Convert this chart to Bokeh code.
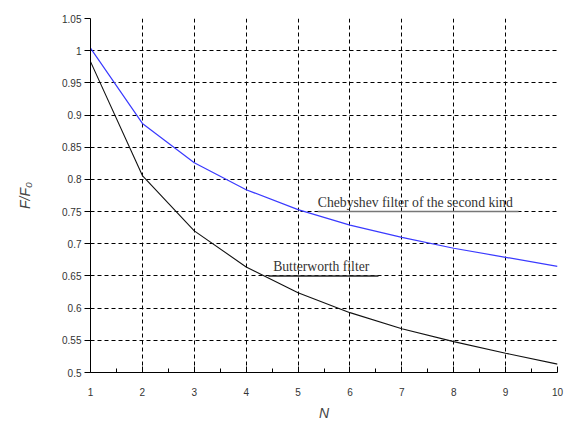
from bokeh.plotting import figure
from bokeh.models import Range1d, FixedTicker, Label
from bokeh.embed import file_html
from bokeh.resources import INLINE

N = [1, 2, 3, 4, 5, 6, 7, 8, 9, 10]
chebyshev = [1.004, 0.887, 0.826, 0.784, 0.753, 0.729, 0.710, 0.693, 0.679, 0.665]
butterworth = [0.983, 0.806, 0.720, 0.664, 0.624, 0.593, 0.568, 0.548, 0.530, 0.513]

y_ticks = [0.5, 0.55, 0.6, 0.65, 0.7, 0.75, 0.8, 0.85, 0.9, 0.95, 1.0, 1.05]
x_ticks = [1, 2, 3, 4, 5, 6, 7, 8, 9, 10]
x_minor = [1.5, 2.5, 3.5, 4.5, 5.5, 6.5, 7.5, 8.5, 9.5]

labels = ["Chebyshev filter of the second kind", "Butterworth filter"]
label_x = [5.38, 4.52]
label_y = [0.75, 0.65]
underline_x0 = [5.38, 4.43]
underline_x1 = [9.25, 6.55]
underline_colors = ["#777777", "#222222"]

p = figure(width=565, height=431, output_backend="svg", toolbar_location=None,
           x_range=Range1d(1, 10), y_range=Range1d(0.5, 1.05),
           min_border_left=90, min_border_right=8, min_border_top=18, min_border_bottom=59)
p.outline_line_color = None
p.background_fill_color = "white"

for ax in (p.xaxis[0], p.yaxis[0]):
    ax.axis_line_color = "black"
    ax.major_label_text_font = "Liberation Sans"
    ax.major_label_text_font_size = "10px"
    ax.major_label_text_color = "#333333"
    ax.axis_label_text_font = "Liberation Sans"
    ax.axis_label_text_font_style = "italic"
    ax.axis_label_text_font_size = "14px"
    ax.axis_label_text_color = "#444444"

p.xaxis.ticker = FixedTicker(ticks=x_ticks, minor_ticks=x_minor)
p.xaxis.major_tick_in = 6
p.xaxis.major_tick_out = 0
p.xaxis.minor_tick_in = 4
p.xaxis.minor_tick_out = 0
p.xaxis.major_label_standoff = 15
p.xaxis.axis_label = "N"
p.xaxis.axis_label_standoff = 6

p.yaxis.ticker = FixedTicker(ticks=y_ticks)
p.yaxis.major_tick_in = 0
p.yaxis.major_tick_out = 6
p.yaxis.minor_tick_line_color = None
p.yaxis.major_label_standoff = 3
p.yaxis.axis_label = "F/F₀"
p.yaxis.axis_label_standoff = 26

p.xgrid.grid_line_color = "black"
p.xgrid.grid_line_dash = "4 3"
p.ygrid.grid_line_color = "black"
p.ygrid.grid_line_dash = "4 3"

p.line(N, chebyshev, line_color="#3a3aff", line_width=1.2)
p.line(N, butterworth, line_color="#111111", line_width=1.1)

for i in range(len(labels)):
    p.segment(x0=[underline_x0[i]], y0=[label_y[i]], x1=[underline_x1[i]], y1=[label_y[i]],
              line_color=underline_colors[i], line_width=1.5)
    p.add_layout(Label(x=label_x[i], y=label_y[i], text=labels[i], y_offset=2,
                       text_font="Liberation Serif", text_font_size="13.7px",
                       text_color="#333333", text_baseline="bottom"))

open("out.html", "w").write(file_html(p, INLINE))
